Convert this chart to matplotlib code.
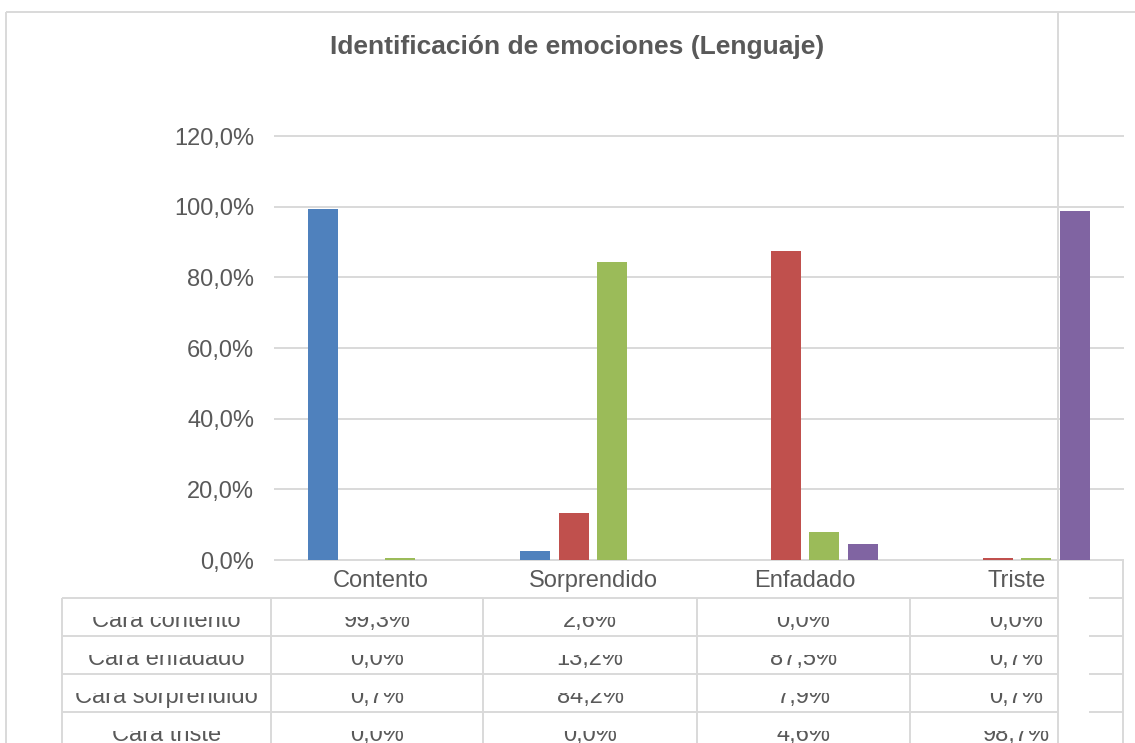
import numpy as np
import matplotlib.pyplot as plt
from matplotlib.patches import Rectangle

plt.rcParams['font.family'] = ['Liberation Sans', 'DejaVu Sans']

categories = ['Contento', 'Sorprendido', 'Enfadado', 'Triste']
series_names = ['Cara contento', 'Cara enfadado', 'Cara sorprendido', 'Cara triste']
cara_contento = [99.3, 2.6, 0.0, 0.0]
cara_enfadado = [0.0, 13.2, 87.5, 0.7]
cara_sorprendido = [0.7, 84.2, 7.9, 0.7]
cara_triste = [0.0, 0.0, 4.6, 98.7]
yticks = [0, 20, 40, 60, 80, 100, 120]

values = [cara_contento, cara_enfadado, cara_sorprendido, cara_triste]
colors = ['#4F81BD', '#C0504D', '#9BBB59', '#8064A2']
grid_c = '#D9D9D9'
text_c = '#595959'

def pct(v):
    return '{:.1f}%'.format(v).replace('.', ',')

W, H = 1135, 743
fig = plt.figure(figsize=(W / 100, H / 100), dpi=100)

# plot area (pixel box of the original)
ax = fig.add_axes([275 / W, 1 - 560 / H, (1123 - 275) / W, (560 - 136) / H])
x = np.arange(len(categories))
width, step = 0.1415, 0.1816
for j, (vals, c) in enumerate(zip(values, colors)):
    ax.bar(x + (j - 1.5) * step, vals, width, color=c, zorder=3)

ax.set_xlim(-0.5, 3.5)
ax.set_ylim(0, 120)
ax.set_yticks(yticks, [pct(v) for v in yticks])
ax.set_xticks(x, categories)
ax.tick_params(length=0, labelsize=17, colors=text_c)
ax.tick_params(axis='y', pad=15)
ax.tick_params(axis='x', pad=7)
for s in ax.spines.values():
    s.set_visible(False)
for v in yticks:
    ax.axhline(v, color=grid_c, lw=1.4, clip_on=False, zorder=1)

fig.text(577 / W, 1 - 47 / H, 'Identificación de emociones (Lenguaje)',
         ha='center', va='center', fontsize=19, fontweight='bold', color=text_c)

# overlay in pixel coords for frame + data table
ov = fig.add_axes([0, 0, 1, 1])
ov.set_xlim(0, W)
ov.set_ylim(H, 0)
ov.axis('off')
ov.patch.set_alpha(0)

def line(xs, ys):
    ov.plot(xs, ys, color=grid_c, lw=1.4, solid_capstyle='butt', zorder=5)

line([6, 6], [12, H])
line([6, W], [12, 12])
line([1058, 1058], [12, H])

col_edges = [62, 271, 483, 697, 910, 1123]
row_top, row_h = 598, 38
for i in range(4):
    y = row_top + row_h * i
    line([62, 1058], [y, y])
    line([1089, 1123], [y, y])
for xe in col_edges[:-1]:
    line([xe, xe], [row_top, H])
line([1123, 1123], [560, H])

# table text: the original only shows the lower part of each line,
# so the upper band of every row is masked
centers = [(a + b) / 2 for a, b in zip(col_edges[:-1], col_edges[1:])]
for i, (name, vals) in enumerate(zip(series_names, values)):
    y = row_top + row_h * i
    cells = [name] + [pct(v) for v in vals]
    for cx, s in zip(centers, cells):
        ov.text(cx, y + 29, s, ha='center', va='baseline', fontsize=17,
                color=text_c, zorder=2)
    ov.add_patch(Rectangle((62, y), 1123 - 62, 19, facecolor='white',
                           edgecolor='none', zorder=3))

fig.savefig('out.png', dpi=100)
